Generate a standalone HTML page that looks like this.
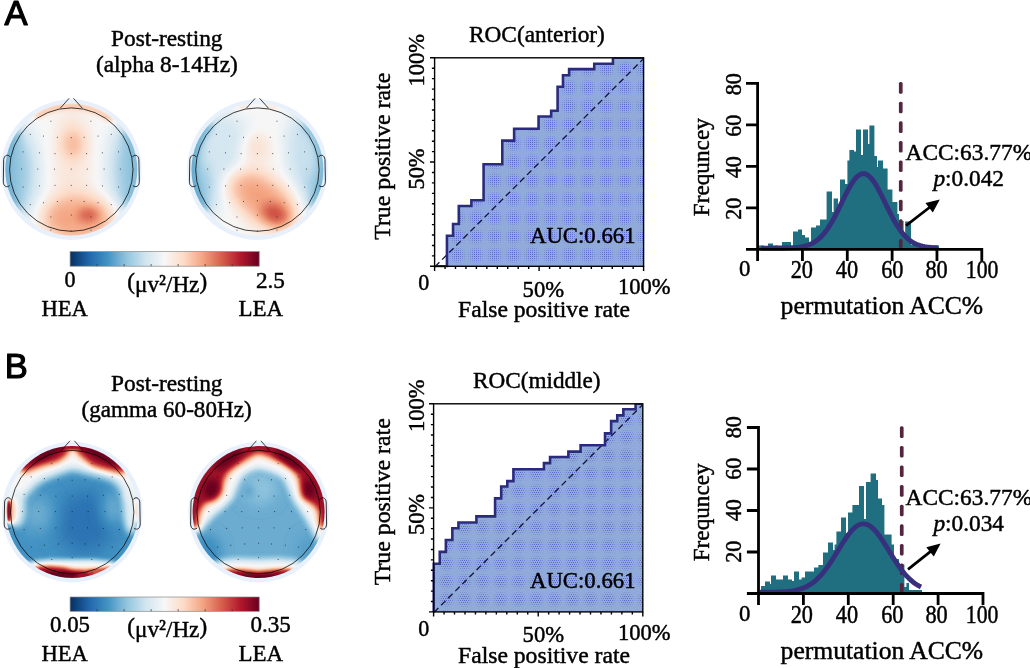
<!DOCTYPE html>
<html lang="en">
<head>
<meta charset="utf-8">
<title>Figure: post-resting EEG power, ROC and permutation tests</title>
<style>
html,body{margin:0;padding:0;background:#fff;}
body{width:1030px;height:668px;overflow:hidden;}
svg{display:block;}
.t{font-family:'Liberation Serif','DejaVu Serif',serif;fill:#000;stroke:#000;stroke-width:0.45px;stroke-linejoin:round;}
.s{font-family:'Liberation Sans','DejaVu Sans',sans-serif;fill:#000;stroke:#000;stroke-width:1.15px;stroke-linejoin:round;}
</style>
</head>
<body>
<svg width="1030" height="668" viewBox="0 0 1030 668">
<rect width="1030" height="668" fill="#fff"/>
<defs>
<filter id="cm" filterUnits="userSpaceOnUse" x="-75" y="-75" width="150" height="150" color-interpolation-filters="sRGB"><feComponentTransfer><feFuncR type="table" tableValues="0.020 0.047 0.075 0.102 0.129 0.163 0.196 0.229 0.263 0.340 0.418 0.495 0.573 0.634 0.696 0.758 0.820 0.857 0.894 0.931 0.969 0.975 0.980 0.986 0.992 0.983 0.975 0.966 0.957 0.927 0.898 0.869 0.839 0.804 0.769 0.733 0.698 0.625 0.551 0.477 0.404"/><feFuncG type="table" tableValues="0.188 0.241 0.294 0.347 0.400 0.444 0.488 0.532 0.576 0.625 0.675 0.724 0.773 0.804 0.835 0.867 0.898 0.916 0.933 0.951 0.969 0.941 0.914 0.886 0.859 0.806 0.753 0.700 0.647 0.579 0.512 0.444 0.376 0.306 0.235 0.165 0.094 0.071 0.047 0.024 0.000"/><feFuncB type="table" tableValues="0.380 0.454 0.527 0.601 0.675 0.697 0.720 0.742 0.765 0.791 0.818 0.844 0.871 0.888 0.906 0.924 0.941 0.948 0.955 0.962 0.969 0.922 0.875 0.827 0.780 0.713 0.645 0.577 0.510 0.458 0.406 0.354 0.302 0.269 0.235 0.202 0.169 0.157 0.145 0.133 0.122"/></feComponentTransfer></filter>
<filter id="b1_1" filterUnits="userSpaceOnUse" x="-110" y="-110" width="220" height="220" color-interpolation-filters="sRGB"><feGaussianBlur stdDeviation="1.1"/></filter>
<filter id="b1_4" filterUnits="userSpaceOnUse" x="-110" y="-110" width="220" height="220" color-interpolation-filters="sRGB"><feGaussianBlur stdDeviation="1.4"/></filter>
<filter id="b1_7" filterUnits="userSpaceOnUse" x="-110" y="-110" width="220" height="220" color-interpolation-filters="sRGB"><feGaussianBlur stdDeviation="1.7"/></filter>
<filter id="b1_9" filterUnits="userSpaceOnUse" x="-110" y="-110" width="220" height="220" color-interpolation-filters="sRGB"><feGaussianBlur stdDeviation="1.9"/></filter>
<filter id="b2_0" filterUnits="userSpaceOnUse" x="-110" y="-110" width="220" height="220" color-interpolation-filters="sRGB"><feGaussianBlur stdDeviation="2.0"/></filter>
<filter id="b2_1" filterUnits="userSpaceOnUse" x="-110" y="-110" width="220" height="220" color-interpolation-filters="sRGB"><feGaussianBlur stdDeviation="2.1"/></filter>
<filter id="b2_8" filterUnits="userSpaceOnUse" x="-110" y="-110" width="220" height="220" color-interpolation-filters="sRGB"><feGaussianBlur stdDeviation="2.8"/></filter>
<filter id="b2_9" filterUnits="userSpaceOnUse" x="-110" y="-110" width="220" height="220" color-interpolation-filters="sRGB"><feGaussianBlur stdDeviation="2.9"/></filter>
<filter id="b3_1" filterUnits="userSpaceOnUse" x="-110" y="-110" width="220" height="220" color-interpolation-filters="sRGB"><feGaussianBlur stdDeviation="3.1"/></filter>
<filter id="b3_3" filterUnits="userSpaceOnUse" x="-110" y="-110" width="220" height="220" color-interpolation-filters="sRGB"><feGaussianBlur stdDeviation="3.3"/></filter>
<filter id="b3_4" filterUnits="userSpaceOnUse" x="-110" y="-110" width="220" height="220" color-interpolation-filters="sRGB"><feGaussianBlur stdDeviation="3.4"/></filter>
<filter id="b3_6" filterUnits="userSpaceOnUse" x="-110" y="-110" width="220" height="220" color-interpolation-filters="sRGB"><feGaussianBlur stdDeviation="3.6"/></filter>
<filter id="b3_8" filterUnits="userSpaceOnUse" x="-110" y="-110" width="220" height="220" color-interpolation-filters="sRGB"><feGaussianBlur stdDeviation="3.8"/></filter>
<filter id="b4_3" filterUnits="userSpaceOnUse" x="-110" y="-110" width="220" height="220" color-interpolation-filters="sRGB"><feGaussianBlur stdDeviation="4.3"/></filter>
<filter id="b4_8" filterUnits="userSpaceOnUse" x="-110" y="-110" width="220" height="220" color-interpolation-filters="sRGB"><feGaussianBlur stdDeviation="4.8"/></filter>
<filter id="b5_3" filterUnits="userSpaceOnUse" x="-110" y="-110" width="220" height="220" color-interpolation-filters="sRGB"><feGaussianBlur stdDeviation="5.3"/></filter>
<filter id="b6_4" filterUnits="userSpaceOnUse" x="-110" y="-110" width="220" height="220" color-interpolation-filters="sRGB"><feGaussianBlur stdDeviation="6.4"/></filter>
<filter id="b6_7" filterUnits="userSpaceOnUse" x="-110" y="-110" width="220" height="220" color-interpolation-filters="sRGB"><feGaussianBlur stdDeviation="6.7"/></filter>
<filter id="b7_1" filterUnits="userSpaceOnUse" x="-110" y="-110" width="220" height="220" color-interpolation-filters="sRGB"><feGaussianBlur stdDeviation="7.1"/></filter>
<filter id="b8_4" filterUnits="userSpaceOnUse" x="-110" y="-110" width="220" height="220" color-interpolation-filters="sRGB"><feGaussianBlur stdDeviation="8.4"/></filter>
<filter id="b8_5" filterUnits="userSpaceOnUse" x="-110" y="-110" width="220" height="220" color-interpolation-filters="sRGB"><feGaussianBlur stdDeviation="8.5"/></filter>
<filter id="b8_6" filterUnits="userSpaceOnUse" x="-110" y="-110" width="220" height="220" color-interpolation-filters="sRGB"><feGaussianBlur stdDeviation="8.6"/></filter>
<filter id="b9_1" filterUnits="userSpaceOnUse" x="-110" y="-110" width="220" height="220" color-interpolation-filters="sRGB"><feGaussianBlur stdDeviation="9.1"/></filter>
<filter id="b9_6" filterUnits="userSpaceOnUse" x="-110" y="-110" width="220" height="220" color-interpolation-filters="sRGB"><feGaussianBlur stdDeviation="9.6"/></filter>
<filter id="b10_0" filterUnits="userSpaceOnUse" x="-110" y="-110" width="220" height="220" color-interpolation-filters="sRGB"><feGaussianBlur stdDeviation="10.0"/></filter>
<filter id="b10_1" filterUnits="userSpaceOnUse" x="-110" y="-110" width="220" height="220" color-interpolation-filters="sRGB"><feGaussianBlur stdDeviation="10.1"/></filter>
<filter id="b10_8" filterUnits="userSpaceOnUse" x="-110" y="-110" width="220" height="220" color-interpolation-filters="sRGB"><feGaussianBlur stdDeviation="10.8"/></filter>
<linearGradient id="cbar" x1="0" x2="1" y1="0" y2="0"><stop offset="0%" stop-color="#053061"/><stop offset="10%" stop-color="#2166ac"/><stop offset="20%" stop-color="#4393c3"/><stop offset="30%" stop-color="#92c5de"/><stop offset="40%" stop-color="#d1e5f0"/><stop offset="50%" stop-color="#f7f7f7"/><stop offset="60%" stop-color="#fddbc7"/><stop offset="70%" stop-color="#f4a582"/><stop offset="80%" stop-color="#d6604d"/><stop offset="90%" stop-color="#b2182b"/><stop offset="100%" stop-color="#67001f"/></linearGradient>
<pattern id="dotsA" width="2" height="2" patternUnits="userSpaceOnUse"><rect x="0" y="0" width="1" height="1" fill="#474cc0"/></pattern>
<pattern id="dotsB" width="2" height="4" patternUnits="userSpaceOnUse"><rect x="0" y="0" width="1" height="1" fill="#474cc0"/><rect x="1" y="2" width="1" height="1" fill="#474cc0"/></pattern>
<radialGradient id="mg" cx="0.5" cy="0.5" r="0.6"><stop offset="0" stop-color="#90abda" stop-opacity="0.15"/><stop offset="0.3" stop-color="#90abda" stop-opacity="0.3"/><stop offset="0.6" stop-color="#90abda" stop-opacity="0.7"/><stop offset="0.85" stop-color="#90abda" stop-opacity="1"/></radialGradient>
<pattern id="moireA" x="1.8" y="3.9" width="18.6" height="18.6" patternUnits="userSpaceOnUse"><rect width="18.6" height="18.6" fill="url(#mg)"/></pattern>
<pattern id="moireB" x="5.4" y="14.4" width="18" height="18" patternUnits="userSpaceOnUse"><rect width="18" height="18" fill="url(#mg)"/></pattern>
</defs>
<circle cx="71.30" cy="169.60" r="70.3" fill="#e8f1fb"/>
<clipPath id="tc1"><circle cx="0" cy="0" r="66.0"/></clipPath>
<g transform="translate(71.30 169.60)"><g clip-path="url(#tc1)"><g filter="url(#cm)">
<rect x="-72" y="-72" width="144" height="144" fill="#808080"/>
<g opacity="1" filter="url(#b9_6)"><ellipse cx="0.0" cy="-0.5" rx="18.0" ry="71.9" fill="#8f8f8f"/></g>
<g opacity="1" filter="url(#b10_8)"><ellipse cx="-69.0" cy="3.1" rx="32.3" ry="55.1" fill="#4a4a4a"/></g>
<g opacity="1" filter="url(#b10_1)"><ellipse cx="69.9" cy="-0.5" rx="29.9" ry="55.1" fill="#4c4c4c"/></g>
<g opacity="1" filter="url(#b3_8)"><path d="M-56.4,32.6 L-59.6,26.3 L-62.1,19.7 L-63.9,12.9 L-64.9,5.9 L-65.1,-1.1 L-64.6,-8.2 L-63.4,-15.1 L-61.4,-21.9 L-58.7,-28.4 L-55.3,-34.5" fill="none" stroke="#404040" stroke-width="5.7" stroke-linecap="round" stroke-linejoin="round"/></g>
<g opacity="1" filter="url(#b3_8)"><path d="M55.3,-34.5 L58.6,-28.6 L61.2,-22.3 L63.2,-15.8 L64.5,-9.1 L65.1,-2.3 L65.0,4.5 L64.2,11.3 L62.6,18.0 L60.4,24.4 L57.5,30.6" fill="none" stroke="#454545" stroke-width="5.3" stroke-linecap="round" stroke-linejoin="round"/></g>
<g opacity="1" filter="url(#b6_7)"><ellipse cx="1.7" cy="-25.6" rx="10.8" ry="15.6" fill="#ababab"/></g>
<g opacity="1" filter="url(#b2_9)"><path d="M-33.8,-54.0 L-27.6,-57.4 L-21.0,-60.1 L-14.2,-62.1 L-7.3,-63.3 L-0.2,-63.7 L6.9,-63.3 L13.8,-62.2 L20.6,-60.3 L27.2,-57.6 L33.4,-54.2 L39.2,-50.2" fill="none" stroke="#a6a6a6" stroke-width="6.2" stroke-linecap="round" stroke-linejoin="round"/></g>
<g opacity="1" filter="url(#b8_6)"><ellipse cx="6.5" cy="48.6" rx="35.9" ry="22.8" fill="#b2b2b2"/></g>
<g opacity="1" filter="url(#b4_8)"><ellipse cx="16.8" cy="45.5" rx="10.1" ry="6.2" fill="#d1d1d1"/></g>
</g></g>
<circle r="61.7" fill="none" stroke="#000" stroke-width="0.75"/>
<path d="M-11,-61.4 L-2.2,-71.3 M2.2,-71.3 L11,-61.4" fill="none" stroke="#000" stroke-width="0.75"/>
<path d="M-61.0,-12.5 C-63.0,-15.5 -67.0,-15 -67.6,-10 L-68.0,12 C-67.8,17.5 -64.0,18 -61.6,16" fill="none" stroke="#000" stroke-width="0.8"/>
<path d="M61.0,-12.5 C63.0,-15.5 67.0,-15 67.6,-10 L68.0,12 C67.8,17.5 64.0,18 61.6,16" fill="none" stroke="#000" stroke-width="0.8"/>
<path d="M-20.9,-48.4h1M19.1,-48.4h1M-41.5,-35.2h1M-28.3,-33.5h1M-14.4,-32.3h1M-0.5,-31.9h1M12.4,-32.3h1M26.3,-33.5h1M39.5,-35.2h1M-48.6,-17.7h1M-32.4,-16.8h1M-16.8,-16.0h1M-0.5,-16.0h1M14.8,-16.0h1M30.6,-16.8h1M46.7,-17.7h1M-50.3,-0.5h1M-34.0,-0.5h1M-17.3,-0.5h1M-0.5,-0.5h1M15.5,-0.5h1M32.3,-0.5h1M48.6,-0.5h1M-48.6,17.5h1M-32.4,16.3h1M-16.8,15.8h1M-0.5,15.8h1M14.8,15.8h1M30.6,16.3h1M46.7,17.5h1M-41.5,35.0h1M-28.3,33.1h1M-14.4,31.9h1M-0.5,31.1h1M12.4,31.9h1M26.3,33.1h1M39.5,35.0h1M-20.9,47.4h1M-0.5,45.5h1M19.1,47.4h1M-0.5,61.3h1M-20.9,60.6h1M19.1,60.6h1" stroke="#111" stroke-width="1" opacity="0.7" fill="none"/>
</g>
<circle cx="257.40" cy="169.60" r="70.3" fill="#e8f1fb"/>
<clipPath id="tc2"><circle cx="0" cy="0" r="66.0"/></clipPath>
<g transform="translate(257.40 169.60)"><g clip-path="url(#tc2)"><g filter="url(#cm)">
<rect x="-72" y="-72" width="144" height="144" fill="#808080"/>
<g opacity="1" filter="url(#b10_8)"><ellipse cx="-69.5" cy="-7.7" rx="32.3" ry="64.7" fill="#4c4c4c"/></g>
<g opacity="1" filter="url(#b10_1)"><ellipse cx="70.7" cy="-10.1" rx="28.7" ry="59.9" fill="#4a4a4a"/></g>
<g opacity="1" filter="url(#b10_1)"><ellipse cx="-33.5" cy="-24.4" rx="26.3" ry="33.5" fill="#696969"/></g>
<g opacity="1" filter="url(#b9_1)"><ellipse cx="47.9" cy="-24.4" rx="18.0" ry="35.9" fill="#636363"/></g>
<g opacity="1" filter="url(#b3_8)"><path d="M-53.4,37.4 L-57.2,31.2 L-60.3,24.6 L-62.7,17.7 L-64.3,10.6 L-65.1,3.3 L-65.0,-4.0 L-64.2,-11.2 L-62.5,-18.3 L-60.1,-25.2 L-56.9,-31.8 L-53.0,-37.9 L-48.4,-43.6" fill="none" stroke="#383838" stroke-width="6.2" stroke-linecap="round" stroke-linejoin="round"/></g>
<g opacity="1" filter="url(#b3_8)"><path d="M48.4,-43.6 L52.8,-38.1 L56.6,-32.2 L59.7,-26.0 L62.2,-19.4 L63.9,-12.6 L64.9,-5.7 L65.1,1.3 L64.6,8.3 L63.3,15.2 L61.3,21.9 L58.6,28.4 L55.3,34.5" fill="none" stroke="#404040" stroke-width="5.3" stroke-linecap="round" stroke-linejoin="round"/></g>
<g opacity="1" filter="url(#b8_4)"><ellipse cx="0.0" cy="-11.3" rx="14.4" ry="21.6" fill="#8c8c8c"/></g>
<g opacity="1" filter="url(#b1_9)"><ellipse cx="-14.4" cy="-62.8" rx="6.7" ry="2.4" fill="#8f8f8f"/></g>
<g opacity="1" filter="url(#b1_9)"><ellipse cx="15.6" cy="-62.8" rx="5.7" ry="2.4" fill="#8f8f8f"/></g>
<g opacity="1" filter="url(#b6_7)"><ellipse cx="0.0" cy="-23.2" rx="9.1" ry="12.0" fill="#959595"/></g>
<g opacity="1" filter="url(#b8_4)"><ellipse cx="-15.6" cy="16.3" rx="16.8" ry="14.4" fill="#999999"/></g>
<g opacity="1" filter="url(#b8_6)"><ellipse cx="7.9" cy="32.6" rx="35.9" ry="22.0" transform="rotate(40 7.9 32.6)" fill="#b4b4b4"/></g>
<g opacity="1" filter="url(#b5_3)"><ellipse cx="17.5" cy="44.1" rx="13.4" ry="8.6" transform="rotate(25 17.5 44.1)" fill="#d6d6d6"/></g>
</g></g>
<circle r="61.7" fill="none" stroke="#000" stroke-width="0.75"/>
<path d="M-11,-61.4 L-2.2,-71.3 M2.2,-71.3 L11,-61.4" fill="none" stroke="#000" stroke-width="0.75"/>
<path d="M-61.0,-12.5 C-63.0,-15.5 -67.0,-15 -67.6,-10 L-68.0,12 C-67.8,17.5 -64.0,18 -61.6,16" fill="none" stroke="#000" stroke-width="0.8"/>
<path d="M61.0,-12.5 C63.0,-15.5 67.0,-15 67.6,-10 L68.0,12 C67.8,17.5 64.0,18 61.6,16" fill="none" stroke="#000" stroke-width="0.8"/>
<path d="M-20.9,-48.4h1M19.1,-48.4h1M-41.5,-35.2h1M-28.3,-33.5h1M-14.4,-32.3h1M-0.5,-31.9h1M12.4,-32.3h1M26.3,-33.5h1M39.5,-35.2h1M-48.6,-17.7h1M-32.4,-16.8h1M-16.8,-16.0h1M-0.5,-16.0h1M14.8,-16.0h1M30.6,-16.8h1M46.7,-17.7h1M-50.3,-0.5h1M-34.0,-0.5h1M-17.3,-0.5h1M-0.5,-0.5h1M15.5,-0.5h1M32.3,-0.5h1M48.6,-0.5h1M-48.6,17.5h1M-32.4,16.3h1M-16.8,15.8h1M-0.5,15.8h1M14.8,15.8h1M30.6,16.3h1M46.7,17.5h1M-41.5,35.0h1M-28.3,33.1h1M-14.4,31.9h1M-0.5,31.1h1M12.4,31.9h1M26.3,33.1h1M39.5,35.0h1M-20.9,47.4h1M-0.5,45.5h1M19.1,47.4h1M-0.5,61.3h1M-20.9,60.6h1M19.1,60.6h1" stroke="#111" stroke-width="1" opacity="0.7" fill="none"/>
</g>
<circle cx="72.20" cy="512.10" r="70.3" fill="#e8f1fb"/>
<clipPath id="tc3"><circle cx="0" cy="0" r="66.0"/></clipPath>
<g transform="translate(72.20 512.10)"><g clip-path="url(#tc3)"><g filter="url(#cm)">
<rect x="-72" y="-72" width="144" height="144" fill="#333333"/>
<g opacity="1" filter="url(#b10_0)"><ellipse cx="13.1" cy="10.4" rx="28.4" ry="32.7" fill="#212121"/></g>
<g opacity="1" filter="url(#b8_5)"><ellipse cx="-35.2" cy="1.8" rx="15.6" ry="18.5" fill="#424242"/></g>
<g opacity="1" filter="url(#b7_1)"><ellipse cx="41.5" cy="-3.9" rx="11.4" ry="17.1" fill="#404040"/></g>
<g opacity="1" filter="url(#b4_3)"><path d="M-86.4,-9.5 L-55.1,-9.5 L-53.7,-12.4 L-45.2,-18.1 L-38.1,-26.6 L-29.6,-32.3 L-15.3,-38.0 L0.3,-43.7 L13.1,-40.1 L27.3,-36.6 L41.5,-32.3 L48.6,-25.2 L52.9,-12.4 L54.3,-9.5 L84.2,-9.5 L84.2,-86.3 L-86.4,-86.3Z" fill="#808080"/></g>
<g opacity="1" filter="url(#b3_6)"><ellipse cx="-55.9" cy="-3.9" rx="7.8" ry="18.5" fill="#757575"/></g>
<g opacity="1" filter="url(#b3_6)"><ellipse cx="59.3" cy="-2.4" rx="7.1" ry="24.2" fill="#757575"/></g>
<g opacity="1" filter="url(#b3_1)"><path d="M-47.3,-38.5 L-43.8,-40.5 L-29.6,-46.2 L-15.3,-49.8 L-8.2,-54.0 L-3.3,-59.3 L-1.5,-66.4 L-1.5,-86.3 L-86.4,-86.3 L-86.4,-63.6 L-56.6,-45.8Z" fill="#ededed"/></g>
<g opacity="1" filter="url(#b3_1)"><path d="M1.7,-86.3 L1.7,-66.4 L4.3,-59.3 L10.3,-54.0 L20.2,-46.2 L34.4,-42.0 L47.2,-39.1 L50.8,-38.3 L60.0,-45.8 L84.2,-63.6 L84.2,-86.3Z" fill="#ededed"/></g>
<g opacity="1" filter="url(#b2_0)"><ellipse cx="-25.3" cy="-58.2" rx="19.9" ry="3.7" transform="rotate(-27 -25.3 -58.2)" fill="#ffffff"/></g>
<g opacity="1" filter="url(#b2_0)"><ellipse cx="27.3" cy="-57.0" rx="21.3" ry="3.7" transform="rotate(27 27.3 -57.0)" fill="#ffffff"/></g>
<g opacity="1" filter="url(#b1_4)"><ellipse cx="0.3" cy="-65.0" rx="7.1" ry="2.6" fill="#f2f2f2"/></g>
<g opacity="1" filter="url(#b2_0)"><ellipse cx="-60.5" cy="-1.0" rx="4.3" ry="13.1" fill="#a3a3a3"/></g>
<g opacity="1" filter="url(#b1_1)"><ellipse cx="-63.4" cy="-1.0" rx="2.3" ry="11.4" fill="#f7f7f7"/></g>
<g opacity="1" filter="url(#b1_4)"><ellipse cx="64.6" cy="-1.0" rx="2.0" ry="11.4" fill="#9e9e9e"/></g>
<g opacity="1" filter="url(#b2_8)"><path d="M-49.5,54.9 L-39.5,49.8 L-22.4,47.8 L0.3,48.2 L20.2,47.8 L38.7,49.8 L48.6,54.9 L48.6,92.4 L-49.5,92.4Z" fill="#808080"/></g>
<g opacity="1" filter="url(#b2_0)"><path d="M-43.8,57.6 L-33.8,54.2 L-22.4,53.6 L-8.2,55.0 L0.3,56.9 L13.1,57.6 L27.3,56.6 L38.7,54.6 L45.8,57.6 L45.8,92.4 L-43.8,92.4Z" fill="#ededed"/></g>
<g opacity="1" filter="url(#b1_4)"><ellipse cx="-15.3" cy="62.8" rx="21.3" ry="3.4" fill="#ffffff"/></g>
<g opacity="1" filter="url(#b1_7)"><ellipse cx="24.5" cy="59.7" rx="10.0" ry="2.3" fill="#cccccc"/></g>
</g></g>
<circle r="61.7" fill="none" stroke="#000" stroke-width="0.75"/>
<path d="M-11,-61.4 L-2.2,-71.3 M2.2,-71.3 L11,-61.4" fill="none" stroke="#000" stroke-width="0.75"/>
<path d="M-61.0,-12.5 C-63.0,-15.5 -67.0,-15 -67.6,-10 L-68.0,12 C-67.8,17.5 -64.0,18 -61.6,16" fill="none" stroke="#000" stroke-width="0.8"/>
<path d="M61.0,-12.5 C63.0,-15.5 67.0,-15 67.6,-10 L68.0,12 C67.8,17.5 64.0,18 61.6,16" fill="none" stroke="#000" stroke-width="0.8"/>
<path d="M-20.9,-48.4h1M19.1,-48.4h1M-41.5,-35.2h1M-28.3,-33.5h1M-14.4,-32.3h1M-0.5,-31.9h1M12.4,-32.3h1M26.3,-33.5h1M39.5,-35.2h1M-48.6,-17.7h1M-32.4,-16.8h1M-16.8,-16.0h1M-0.5,-16.0h1M14.8,-16.0h1M30.6,-16.8h1M46.7,-17.7h1M-50.3,-0.5h1M-34.0,-0.5h1M-17.3,-0.5h1M-0.5,-0.5h1M15.5,-0.5h1M32.3,-0.5h1M48.6,-0.5h1M-48.6,17.5h1M-32.4,16.3h1M-16.8,15.8h1M-0.5,15.8h1M14.8,15.8h1M30.6,16.3h1M46.7,17.5h1M-41.5,35.0h1M-28.3,33.1h1M-14.4,31.9h1M-0.5,31.1h1M12.4,31.9h1M26.3,33.1h1M39.5,35.0h1M-20.9,47.4h1M-0.5,45.5h1M19.1,47.4h1M-0.5,61.3h1M-20.9,60.6h1M19.1,60.6h1" stroke="#111" stroke-width="1" opacity="0.7" fill="none"/>
</g>
<circle cx="258.60" cy="512.10" r="70.3" fill="#e8f1fb"/>
<clipPath id="tc4"><circle cx="0" cy="0" r="66.0"/></clipPath>
<g transform="translate(258.60 512.10)"><g clip-path="url(#tc4)"><g filter="url(#cm)">
<rect x="-72" y="-72" width="144" height="144" fill="#404040"/>
<g opacity="1" filter="url(#b7_1)"><ellipse cx="-0.1" cy="-23.8" rx="18.5" ry="15.6" fill="#4c4c4c"/></g>
<g opacity="1" filter="url(#b3_6)"><ellipse cx="-10.0" cy="-20.9" rx="5.7" ry="7.1" fill="#3d3d3d"/></g>
<g opacity="1" filter="url(#b6_4)"><ellipse cx="-51.3" cy="38.8" rx="12.8" ry="15.6" fill="#2e2e2e"/></g>
<g opacity="1" filter="url(#b6_4)"><ellipse cx="49.7" cy="35.9" rx="10.0" ry="12.8" fill="#383838"/></g>
<g opacity="1" filter="url(#b3_3)"><path d="M-86.8,18.9 L-57.7,18.9 L-56.3,16.0 L-46.3,4.0 L-34.9,-5.3 L-26.4,-13.8 L-21.8,-26.3 L-16.9,-35.8 L-8.6,-41.5 L-0.1,-44.2 L12.7,-40.8 L25.2,-34.4 L30.2,-24.5 L34.3,-13.8 L40.4,-4.6 L48.2,6.8 L54.6,18.9 L58.9,27.4 L83.8,27.4 L83.8,-86.3 L-86.8,-86.3Z" fill="#808080"/></g>
<g opacity="1" filter="url(#b3_4)"><path d="M-86.8,16.0 L-60.9,16.0 L-59.1,1.8 L-54.1,-7.4 L-43.5,-12.4 L-37.1,-18.8 L-34.9,-29.5 L-30.7,-38.7 L-22.8,-45.1 L-14.3,-50.5 L-8.6,-54.2 L-3.7,-57.0 L-0.1,-58.2 L4.2,-57.0 L9.9,-55.0 L16.3,-51.9 L24.8,-49.4 L32.6,-43.7 L39.0,-35.1 L41.8,-24.5 L43.3,-15.2 L51.8,-8.8 L58.9,-2.4 L61.3,16.0 L83.8,16.0 L83.8,-86.3 L-86.8,-86.3Z" fill="#ededed"/></g>
<g opacity="1" filter="url(#b3_6)"><ellipse cx="-47.0" cy="-23.1" rx="7.8" ry="10.0" transform="rotate(15 -47.0 -23.1)" fill="#ffffff"/></g>
<g opacity="1" filter="url(#b3_6)"><ellipse cx="50.4" cy="-23.1" rx="6.4" ry="10.0" transform="rotate(-10 50.4 -23.1)" fill="#ffffff"/></g>
<g opacity="1" filter="url(#b3_1)"><ellipse cx="-30.0" cy="-52.9" rx="17.1" ry="5.0" transform="rotate(-35 -30.0 -52.9)" fill="#ffffff"/></g>
<g opacity="1" filter="url(#b3_1)"><ellipse cx="29.8" cy="-52.2" rx="17.1" ry="5.0" transform="rotate(35 29.8 -52.2)" fill="#ffffff"/></g>
<g opacity="1" filter="url(#b3_1)"><path d="M-48.4,55.5 L-44.2,52.6 L-35.6,48.6 L-22.8,47.3 L-0.1,48.1 L19.8,47.3 L35.4,48.6 L45.4,52.6 L49.7,55.5 L49.7,92.4 L-48.4,92.4Z" fill="#808080"/></g>
<g opacity="1" filter="url(#b2_1)"><path d="M-39.9,62.6 L-37.1,59.7 L-30.0,56.9 L-15.7,57.2 L-0.1,58.6 L15.5,57.2 L29.8,56.6 L39.7,59.7 L42.6,62.6 L42.6,92.4 L-39.9,92.4Z" fill="#ededed"/></g>
<g opacity="1" filter="url(#b1_7)"><ellipse cx="-0.1" cy="65.1" rx="34.1" ry="2.8" fill="#ffffff"/></g>
</g></g>
<circle r="61.7" fill="none" stroke="#000" stroke-width="0.75"/>
<path d="M-11,-61.4 L-2.2,-71.3 M2.2,-71.3 L11,-61.4" fill="none" stroke="#000" stroke-width="0.75"/>
<path d="M-61.0,-12.5 C-63.0,-15.5 -67.0,-15 -67.6,-10 L-68.0,12 C-67.8,17.5 -64.0,18 -61.6,16" fill="none" stroke="#000" stroke-width="0.8"/>
<path d="M61.0,-12.5 C63.0,-15.5 67.0,-15 67.6,-10 L68.0,12 C67.8,17.5 64.0,18 61.6,16" fill="none" stroke="#000" stroke-width="0.8"/>
<path d="M-20.9,-48.4h1M19.1,-48.4h1M-41.5,-35.2h1M-28.3,-33.5h1M-14.4,-32.3h1M-0.5,-31.9h1M12.4,-32.3h1M26.3,-33.5h1M39.5,-35.2h1M-48.6,-17.7h1M-32.4,-16.8h1M-16.8,-16.0h1M-0.5,-16.0h1M14.8,-16.0h1M30.6,-16.8h1M46.7,-17.7h1M-50.3,-0.5h1M-34.0,-0.5h1M-17.3,-0.5h1M-0.5,-0.5h1M15.5,-0.5h1M32.3,-0.5h1M48.6,-0.5h1M-48.6,17.5h1M-32.4,16.3h1M-16.8,15.8h1M-0.5,15.8h1M14.8,15.8h1M30.6,16.3h1M46.7,17.5h1M-41.5,35.0h1M-28.3,33.1h1M-14.4,31.9h1M-0.5,31.1h1M12.4,31.9h1M26.3,33.1h1M39.5,35.0h1M-20.9,47.4h1M-0.5,45.5h1M19.1,47.4h1M-0.5,61.3h1M-20.9,60.6h1M19.1,60.6h1" stroke="#111" stroke-width="1" opacity="0.7" fill="none"/>
</g>
<rect x="70.1" y="251.6" width="189.1" height="14.599999999999994" fill="url(#cbar)" stroke="#888" stroke-width="0.7"/>
<path d="M97.11,266.2v-2.2 M124.13,266.2v-2.2 M151.14,266.2v-2.2 M178.16,266.2v-2.2 M205.17,266.2v-2.2 M232.19,266.2v-2.2 " stroke="#333" stroke-width="0.7" fill="none"/>
<text class="t" x="64.40" y="287.00" font-size="23.2" textLength="11.00" lengthAdjust="spacingAndGlyphs">0</text>
<text class="t" x="255.90" y="288.00" font-size="23.2" textLength="29.00" lengthAdjust="spacingAndGlyphs">2.5</text>
<text class="t" x="127.30" y="292.00" font-size="24" textLength="79.80" lengthAdjust="spacingAndGlyphs" dy="-2.6 2.6 0 0 0 0 0 -2.6">(μv²/Hz)</text>
<text class="t" x="41.60" y="316.00" font-size="23" textLength="46.30" lengthAdjust="spacingAndGlyphs">HEA</text>
<text class="t" x="238.50" y="316.00" font-size="23" textLength="44.60" lengthAdjust="spacingAndGlyphs">LEA</text>
<rect x="70.1" y="597.0" width="189.1" height="14.299999999999955" fill="url(#cbar)" stroke="#888" stroke-width="0.7"/>
<path d="M97.11,611.3v-2.2 M124.13,611.3v-2.2 M151.14,611.3v-2.2 M178.16,611.3v-2.2 M205.17,611.3v-2.2 M232.19,611.3v-2.2 " stroke="#333" stroke-width="0.7" fill="none"/>
<text class="t" x="50.00" y="632.00" font-size="23.2" textLength="40.00" lengthAdjust="spacingAndGlyphs">0.05</text>
<text class="t" x="250.50" y="632.00" font-size="23.2" textLength="40.40" lengthAdjust="spacingAndGlyphs">0.35</text>
<text class="t" x="127.30" y="637.00" font-size="24" textLength="79.80" lengthAdjust="spacingAndGlyphs" dy="-2.6 2.6 0 0 0 0 0 -2.6">(μv²/Hz)</text>
<text class="t" x="41.60" y="661.00" font-size="23" textLength="46.30" lengthAdjust="spacingAndGlyphs">HEA</text>
<text class="t" x="238.50" y="661.00" font-size="23" textLength="44.60" lengthAdjust="spacingAndGlyphs">LEA</text>
<text class="t" x="111.00" y="46.00" font-size="23.2" textLength="111.50" lengthAdjust="spacingAndGlyphs">Post-resting</text>
<text class="t" x="96.00" y="72.00" font-size="23.2" textLength="141.80" lengthAdjust="spacingAndGlyphs">(alpha 8-14Hz)</text>
<text class="t" x="111.00" y="391.00" font-size="23.2" textLength="111.50" lengthAdjust="spacingAndGlyphs">Post-resting</text>
<text class="t" x="81.60" y="417.00" font-size="23.2" textLength="170.00" lengthAdjust="spacingAndGlyphs">(gamma 60-80Hz)</text>
<text class="s" x="4.60" y="25.00" font-size="34.6">A</text>
<text class="s" x="4.70" y="378.00" font-size="34.6">B</text>
<path d="M434.60,266.30 L446.95,266.30 L446.95,235.81 L453.05,235.81 L453.05,223.95 L458.80,223.95 L458.80,205.99 L471.38,205.99 L471.38,200.24 L483.59,200.24 L483.59,164.31 L502.28,164.31 L502.28,140.60 L514.13,140.60 L514.13,128.74 L538.56,128.74 L538.56,116.53 L551.14,116.53 L551.14,110.78 L557.60,110.78 L557.60,86.71 L562.99,86.71 L562.99,75.21 L569.10,75.21 L569.10,69.10 L594.25,69.10 L594.25,63.71 L612.93,63.71 L612.93,57.80 L643.60,57.80 L643.60,266.30 L434.60,266.30 Z" fill="#90abda"/>
<path d="M434.60,266.30 L446.95,266.30 L446.95,235.81 L453.05,235.81 L453.05,223.95 L458.80,223.95 L458.80,205.99 L471.38,205.99 L471.38,200.24 L483.59,200.24 L483.59,164.31 L502.28,164.31 L502.28,140.60 L514.13,140.60 L514.13,128.74 L538.56,128.74 L538.56,116.53 L551.14,116.53 L551.14,110.78 L557.60,110.78 L557.60,86.71 L562.99,86.71 L562.99,75.21 L569.10,75.21 L569.10,69.10 L594.25,69.10 L594.25,63.71 L612.93,63.71 L612.93,57.80 L643.60,57.80 L643.60,266.30 L434.60,266.30 Z" fill="url(#dotsA)"/>
<path d="M434.60,266.30 L446.95,266.30 L446.95,235.81 L453.05,235.81 L453.05,223.95 L458.80,223.95 L458.80,205.99 L471.38,205.99 L471.38,200.24 L483.59,200.24 L483.59,164.31 L502.28,164.31 L502.28,140.60 L514.13,140.60 L514.13,128.74 L538.56,128.74 L538.56,116.53 L551.14,116.53 L551.14,110.78 L557.60,110.78 L557.60,86.71 L562.99,86.71 L562.99,75.21 L569.10,75.21 L569.10,69.10 L594.25,69.10 L594.25,63.71 L612.93,63.71 L612.93,57.80 L643.60,57.80 L643.60,266.30 L434.60,266.30 Z" fill="url(#moireA)"/>
<line x1="435.00" y1="266.70" x2="643.00" y2="59.20" stroke="#15153f" stroke-width="1.35" stroke-dasharray="6.2 3.8"/>
<clipPath id="rc0"><rect x="433.30" y="57.80" width="210.30" height="209.80"/></clipPath>
<path d="M434.60,266.30 L446.95,266.30 L446.95,235.81 L453.05,235.81 L453.05,223.95 L458.80,223.95 L458.80,205.99 L471.38,205.99 L471.38,200.24 L483.59,200.24 L483.59,164.31 L502.28,164.31 L502.28,140.60 L514.13,140.60 L514.13,128.74 L538.56,128.74 L538.56,116.53 L551.14,116.53 L551.14,110.78 L557.60,110.78 L557.60,86.71 L562.99,86.71 L562.99,75.21 L569.10,75.21 L569.10,69.10 L594.25,69.10 L594.25,63.71 L612.93,63.71 L612.93,57.80 L643.60,57.80" fill="none" stroke="#2a2b7c" stroke-width="2.6" stroke-linejoin="miter" clip-path="url(#rc0)"/>
<rect x="434.60" y="57.80" width="209.00" height="208.50" fill="none" stroke="#000" stroke-width="1.4"/>
<path d="M434.60,266.30v4.6 M434.60,266.30h-4.6 M445.05,266.30v2.7 M434.60,255.88h-2.7 M455.50,266.30v2.7 M434.60,245.45h-2.7 M465.95,266.30v2.7 M434.60,235.03h-2.7 M476.40,266.30v2.7 M434.60,224.60h-2.7 M486.85,266.30v2.7 M434.60,214.18h-2.7 M497.30,266.30v2.7 M434.60,203.75h-2.7 M507.75,266.30v2.7 M434.60,193.33h-2.7 M518.20,266.30v2.7 M434.60,182.90h-2.7 M528.65,266.30v2.7 M434.60,172.48h-2.7 M539.10,266.30v4.6 M434.60,162.05h-4.6 M549.55,266.30v2.7 M434.60,151.62h-2.7 M560.00,266.30v2.7 M434.60,141.20h-2.7 M570.45,266.30v2.7 M434.60,130.78h-2.7 M580.90,266.30v2.7 M434.60,120.35h-2.7 M591.35,266.30v2.7 M434.60,109.93h-2.7 M601.80,266.30v2.7 M434.60,99.50h-2.7 M612.25,266.30v2.7 M434.60,89.08h-2.7 M622.70,266.30v2.7 M434.60,78.65h-2.7 M633.15,266.30v2.7 M434.60,68.23h-2.7 M643.60,266.30v4.6 M434.60,57.80h-4.6 " stroke="#000" stroke-width="1.4" fill="none"/>
<text class="t" x="469.00" y="42.00" font-size="23" textLength="135.80" lengthAdjust="spacingAndGlyphs">ROC(anterior)</text>
<text class="t" x="530.00" y="243.00" font-size="23" textLength="105.50" lengthAdjust="spacingAndGlyphs">AUC:0.661</text>
<text class="t" x="418.30" y="290.00" font-size="23" textLength="11.00" lengthAdjust="spacingAndGlyphs">0</text>
<text class="t" x="522.60" y="297.00" font-size="23" textLength="41.50" lengthAdjust="spacingAndGlyphs">50%</text>
<text class="t" x="618.00" y="294.00" font-size="23" textLength="52.60" lengthAdjust="spacingAndGlyphs">100%</text>
<text class="t" x="458.00" y="317.00" font-size="23" textLength="172.00" lengthAdjust="spacingAndGlyphs">False positive rate</text>
<text class="t" x="390.00" y="239.80" font-size="23" textLength="167.00" lengthAdjust="spacingAndGlyphs" transform="rotate(-90 390.00 239.80)">True positive rate</text>
<text class="t" x="424.00" y="86.60" font-size="23.4" textLength="52.60" lengthAdjust="spacingAndGlyphs" transform="rotate(-90 424.00 86.60)">100%</text>
<text class="t" x="424.00" y="189.60" font-size="23.4" textLength="41.20" lengthAdjust="spacingAndGlyphs" transform="rotate(-90 424.00 189.60)">50%</text>
<path d="M433.60,611.90 L433.60,563.77 L439.76,563.77 L439.76,551.91 L445.87,551.91 L445.87,540.05 L452.34,540.05 L452.34,528.20 L458.44,528.20 L458.44,522.45 L476.41,522.45 L476.41,516.34 L495.09,516.34 L495.09,498.38 L501.20,498.38 L501.20,486.52 L507.31,486.52 L507.31,481.13 L513.41,481.13 L513.41,469.28 L543.95,469.28 L543.95,463.17 L550.06,463.17 L550.06,457.06 L568.38,457.06 L568.38,451.67 L580.60,451.67 L580.60,445.20 L605.03,445.20 L605.03,433.35 L611.14,433.35 L611.14,421.13 L617.25,421.13 L617.25,415.38 L623.35,415.38 L623.35,409.28 L635.57,409.28 L635.57,403.80 L642.80,403.80 L642.80,611.90 L433.60,611.90 Z" fill="#90abda"/>
<path d="M433.60,611.90 L433.60,563.77 L439.76,563.77 L439.76,551.91 L445.87,551.91 L445.87,540.05 L452.34,540.05 L452.34,528.20 L458.44,528.20 L458.44,522.45 L476.41,522.45 L476.41,516.34 L495.09,516.34 L495.09,498.38 L501.20,498.38 L501.20,486.52 L507.31,486.52 L507.31,481.13 L513.41,481.13 L513.41,469.28 L543.95,469.28 L543.95,463.17 L550.06,463.17 L550.06,457.06 L568.38,457.06 L568.38,451.67 L580.60,451.67 L580.60,445.20 L605.03,445.20 L605.03,433.35 L611.14,433.35 L611.14,421.13 L617.25,421.13 L617.25,415.38 L623.35,415.38 L623.35,409.28 L635.57,409.28 L635.57,403.80 L642.80,403.80 L642.80,611.90 L433.60,611.90 Z" fill="url(#dotsB)"/>
<path d="M433.60,611.90 L433.60,563.77 L439.76,563.77 L439.76,551.91 L445.87,551.91 L445.87,540.05 L452.34,540.05 L452.34,528.20 L458.44,528.20 L458.44,522.45 L476.41,522.45 L476.41,516.34 L495.09,516.34 L495.09,498.38 L501.20,498.38 L501.20,486.52 L507.31,486.52 L507.31,481.13 L513.41,481.13 L513.41,469.28 L543.95,469.28 L543.95,463.17 L550.06,463.17 L550.06,457.06 L568.38,457.06 L568.38,451.67 L580.60,451.67 L580.60,445.20 L605.03,445.20 L605.03,433.35 L611.14,433.35 L611.14,421.13 L617.25,421.13 L617.25,415.38 L623.35,415.38 L623.35,409.28 L635.57,409.28 L635.57,403.80 L642.80,403.80 L642.80,611.90 L433.60,611.90 Z" fill="url(#moireB)"/>
<line x1="434.00" y1="612.30" x2="642.20" y2="405.20" stroke="#15153f" stroke-width="1.35" stroke-dasharray="6.2 3.8"/>
<clipPath id="rc345"><rect x="432.30" y="403.80" width="210.50" height="209.40"/></clipPath>
<path d="M433.60,611.90 L433.60,563.77 L439.76,563.77 L439.76,551.91 L445.87,551.91 L445.87,540.05 L452.34,540.05 L452.34,528.20 L458.44,528.20 L458.44,522.45 L476.41,522.45 L476.41,516.34 L495.09,516.34 L495.09,498.38 L501.20,498.38 L501.20,486.52 L507.31,486.52 L507.31,481.13 L513.41,481.13 L513.41,469.28 L543.95,469.28 L543.95,463.17 L550.06,463.17 L550.06,457.06 L568.38,457.06 L568.38,451.67 L580.60,451.67 L580.60,445.20 L605.03,445.20 L605.03,433.35 L611.14,433.35 L611.14,421.13 L617.25,421.13 L617.25,415.38 L623.35,415.38 L623.35,409.28 L635.57,409.28 L635.57,403.80 L642.80,403.80" fill="none" stroke="#2a2b7c" stroke-width="2.6" stroke-linejoin="miter" clip-path="url(#rc345)"/>
<rect x="433.60" y="403.80" width="209.20" height="208.10" fill="none" stroke="#000" stroke-width="1.4"/>
<path d="M433.60,611.90v4.6 M433.60,611.90h-4.6 M444.06,611.90v2.7 M433.60,601.50h-2.7 M454.52,611.90v2.7 M433.60,591.09h-2.7 M464.98,611.90v2.7 M433.60,580.68h-2.7 M475.44,611.90v2.7 M433.60,570.28h-2.7 M485.90,611.90v2.7 M433.60,559.88h-2.7 M496.36,611.90v2.7 M433.60,549.47h-2.7 M506.82,611.90v2.7 M433.60,539.06h-2.7 M517.28,611.90v2.7 M433.60,528.66h-2.7 M527.74,611.90v2.7 M433.60,518.25h-2.7 M538.20,611.90v4.6 M433.60,507.85h-4.6 M548.66,611.90v2.7 M433.60,497.44h-2.7 M559.12,611.90v2.7 M433.60,487.04h-2.7 M569.58,611.90v2.7 M433.60,476.63h-2.7 M580.04,611.90v2.7 M433.60,466.23h-2.7 M590.50,611.90v2.7 M433.60,455.82h-2.7 M600.96,611.90v2.7 M433.60,445.42h-2.7 M611.42,611.90v2.7 M433.60,435.01h-2.7 M621.88,611.90v2.7 M433.60,424.61h-2.7 M632.34,611.90v2.7 M433.60,414.21h-2.7 M642.80,611.90v4.6 M433.60,403.80h-4.6 " stroke="#000" stroke-width="1.4" fill="none"/>
<text class="t" x="473.00" y="388.00" font-size="23" textLength="127.60" lengthAdjust="spacingAndGlyphs">ROC(middle)</text>
<text class="t" x="530.00" y="588.00" font-size="23" textLength="105.50" lengthAdjust="spacingAndGlyphs">AUC:0.661</text>
<text class="t" x="418.30" y="636.00" font-size="23" textLength="11.00" lengthAdjust="spacingAndGlyphs">0</text>
<text class="t" x="522.60" y="642.00" font-size="23" textLength="41.50" lengthAdjust="spacingAndGlyphs">50%</text>
<text class="t" x="618.00" y="640.00" font-size="23" textLength="52.60" lengthAdjust="spacingAndGlyphs">100%</text>
<text class="t" x="458.00" y="663.00" font-size="23" textLength="172.00" lengthAdjust="spacingAndGlyphs">False positive rate</text>
<text class="t" x="390.00" y="585.30" font-size="23" textLength="167.00" lengthAdjust="spacingAndGlyphs" transform="rotate(-90 390.00 585.30)">True positive rate</text>
<text class="t" x="424.00" y="432.10" font-size="23.4" textLength="52.60" lengthAdjust="spacingAndGlyphs" transform="rotate(-90 424.00 432.10)">100%</text>
<text class="t" x="424.00" y="535.10" font-size="23.4" textLength="41.20" lengthAdjust="spacingAndGlyphs" transform="rotate(-90 424.00 535.10)">50%</text>
<path d="M759.00,249.30 L759.00,245.60 L764.00,245.60 L764.00,246.60 L768.00,246.60 L768.00,243.40 L773.00,243.40 L773.00,245.60 L778.00,245.60 L778.00,246.60 L782.00,246.60 L782.00,242.00 L791.00,242.00 L791.00,246.00 L793.00,246.00 L793.00,231.40 L798.00,231.40 L798.00,229.40 L802.00,229.40 L802.00,235.00 L805.00,235.00 L805.00,237.40 L809.00,237.40 L809.00,242.00 L811.00,242.00 L811.00,227.40 L816.00,227.40 L816.00,225.60 L820.00,225.60 L820.00,219.40 L826.60,219.40 L826.60,191.40 L832.00,191.40 L832.00,212.00 L833.60,212.00 L833.60,198.60 L838.00,198.60 L838.00,207.00 L840.00,207.00 L840.00,179.40 L845.00,179.40 L845.00,184.00 L847.40,184.00 L847.40,160.60 L849.40,160.60 L849.40,150.00 L854.00,150.00 L854.00,151.60 L856.00,151.60 L856.00,129.40 L861.00,129.40 L861.00,155.00 L863.00,155.00 L863.00,129.40 L868.00,129.40 L868.00,144.00 L869.40,144.00 L869.40,125.40 L874.40,125.40 L874.40,156.00 L877.00,156.00 L877.00,167.00 L878.00,167.00 L878.00,160.60 L883.00,160.60 L883.00,168.40 L887.60,168.40 L887.60,189.60 L892.40,189.60 L892.40,202.00 L897.40,202.00 L897.40,214.00 L899.00,214.00 L899.00,221.00 L903.60,221.00 L903.60,233.00 L905.20,233.00 L905.20,221.60 L911.00,221.60 L911.00,245.00 L916.00,245.00 L916.00,245.60 L939.00,245.60 L939.00,249.30 Z" fill="#1f6f80"/>
<rect x="898.90" y="82.10" width="3.7" height="11.60" rx="1.5" fill="#55243f"/>
<rect x="898.90" y="101.70" width="3.7" height="11.60" rx="1.5" fill="#55243f"/>
<rect x="898.90" y="121.30" width="3.7" height="11.60" rx="1.5" fill="#55243f"/>
<rect x="898.90" y="140.90" width="3.7" height="11.60" rx="1.5" fill="#55243f"/>
<rect x="898.90" y="160.50" width="3.7" height="11.60" rx="1.5" fill="#55243f"/>
<rect x="898.90" y="180.10" width="3.7" height="11.60" rx="1.5" fill="#55243f"/>
<rect x="898.90" y="199.70" width="3.7" height="11.60" rx="1.5" fill="#55243f"/>
<rect x="898.90" y="219.30" width="3.7" height="11.60" rx="1.5" fill="#55243f"/>
<rect x="898.90" y="238.90" width="3.7" height="9.20" rx="1.5" fill="#55243f"/>
<path d="M761.00,248.10 L763.21,248.10 L765.42,248.10 L767.64,248.10 L769.85,248.09 L772.06,248.09 L774.27,248.08 L776.49,248.07 L778.70,248.06 L780.91,248.04 L783.12,248.02 L785.34,247.98 L787.55,247.92 L789.76,247.85 L791.98,247.75 L794.19,247.62 L796.40,247.44 L798.61,247.20 L800.83,246.89 L803.04,246.49 L805.25,245.98 L807.46,245.33 L809.67,244.52 L811.89,243.53 L814.10,242.32 L816.31,240.87 L818.52,239.15 L820.74,237.12 L822.95,234.78 L825.16,232.10 L827.38,229.08 L829.59,225.72 L831.80,222.04 L834.01,218.07 L836.23,213.84 L838.44,209.42 L840.65,204.88 L842.86,200.30 L845.08,195.77 L847.29,191.41 L849.50,187.30 L851.71,183.57 L853.92,180.31 L856.14,177.62 L858.35,175.57 L860.56,174.23 L862.77,173.63 L864.99,173.80 L867.20,174.72 L869.41,176.38 L871.62,178.72 L873.84,181.67 L876.05,185.14 L878.26,189.05 L880.48,193.28 L882.69,197.73 L884.90,202.29 L887.11,206.87 L889.33,211.37 L891.54,215.71 L893.75,219.83 L895.96,223.68 L898.17,227.23 L900.39,230.44 L902.60,233.31 L904.81,235.84 L907.02,238.04 L909.24,239.93 L911.45,241.54 L913.66,242.88 L915.88,243.99 L918.09,244.90 L920.30,245.63 L922.51,246.21 L924.73,246.68 L926.94,247.03 L929.15,247.31 L931.36,247.52 L933.58,247.68 L935.79,247.80 L938.00,247.89" fill="none" stroke="#37307c" stroke-width="4.9" stroke-linecap="butt" stroke-linejoin="round"/>
<path d="M757.60,81.90V260.90 M746.00,249.30H983.20 M802.44,249.30v11.6 M847.28,249.30v11.6 M892.12,249.30v11.6 M936.96,249.30v11.6 M981.80,249.30v11.6 M757.60,207.80h-11.6 M757.60,166.30h-11.6 M757.60,124.80h-11.6 M757.60,83.30h-11.6 " stroke="#000" stroke-width="2.8" fill="none"/>
<line x1="906.00" y1="225.60" x2="930.71" y2="206.45" stroke="#000" stroke-width="2.7"/>
<path d="M939.80,199.40 L932.81,212.41 L925.45,202.93 Z" fill="#000"/>
<text class="t" x="790.65" y="278.00" font-size="24.2" textLength="22.30" lengthAdjust="spacingAndGlyphs">20</text>
<text class="t" x="835.85" y="278.00" font-size="24.2" textLength="22.30" lengthAdjust="spacingAndGlyphs">40</text>
<text class="t" x="881.15" y="278.00" font-size="24.2" textLength="22.30" lengthAdjust="spacingAndGlyphs">60</text>
<text class="t" x="925.45" y="278.00" font-size="24.2" textLength="22.30" lengthAdjust="spacingAndGlyphs">80</text>
<text class="t" x="965.80" y="278.00" font-size="24.2" textLength="32.60" lengthAdjust="spacingAndGlyphs">100</text>
<text class="t" x="739.00" y="276.00" font-size="23.3" textLength="11.40" lengthAdjust="spacingAndGlyphs">0</text>
<text class="t" x="780.60" y="314.00" font-size="25" textLength="202.60" lengthAdjust="spacingAndGlyphs">permutation ACC%</text>
<text class="t" x="741.00" y="219.80" font-size="23.5" textLength="22.00" lengthAdjust="spacingAndGlyphs" transform="rotate(-90 741.00 219.80)">20</text>
<text class="t" x="741.00" y="178.20" font-size="23.5" textLength="22.00" lengthAdjust="spacingAndGlyphs" transform="rotate(-90 741.00 178.20)">40</text>
<text class="t" x="741.00" y="136.80" font-size="23.5" textLength="22.00" lengthAdjust="spacingAndGlyphs" transform="rotate(-90 741.00 136.80)">60</text>
<text class="t" x="741.00" y="95.30" font-size="23.5" textLength="22.00" lengthAdjust="spacingAndGlyphs" transform="rotate(-90 741.00 95.30)">80</text>
<text class="t" x="709.00" y="216.20" font-size="23" textLength="98.00" lengthAdjust="spacingAndGlyphs" transform="rotate(-90 709.00 216.20)">Frequncey</text>
<text class="t" x="905.60" y="160.00" font-size="22.3" textLength="126.50" lengthAdjust="spacingAndGlyphs">ACC:63.77%</text>
<text class="t" x="933.4" y="186" font-size="22.3" textLength="70.6" lengthAdjust="spacingAndGlyphs"><tspan font-style="italic">p</tspan>:0.042</text>
<path d="M761.00,593.50 L761.00,586.00 L765.00,586.00 L765.00,581.60 L770.00,581.60 L770.00,584.00 L771.00,584.00 L771.00,575.40 L776.00,575.40 L776.00,579.40 L783.00,579.40 L783.00,575.40 L788.00,575.40 L788.00,579.40 L792.00,579.40 L792.00,581.00 L794.00,581.00 L794.00,571.60 L799.00,571.60 L799.00,579.40 L801.60,579.40 L801.60,577.40 L805.00,577.40 L805.00,571.60 L814.00,571.60 L814.00,567.40 L818.40,567.40 L818.40,565.00 L823.00,565.00 L823.00,552.40 L828.00,552.40 L828.00,542.40 L833.00,542.40 L833.00,550.00 L834.60,550.00 L834.60,544.40 L836.40,544.40 L836.40,531.60 L841.00,531.60 L841.00,517.40 L846.00,517.40 L846.00,533.00 L848.00,533.00 L848.00,512.60 L852.40,512.60 L852.40,505.00 L859.00,505.00 L859.00,486.00 L864.00,486.00 L864.00,519.00 L866.00,519.00 L866.00,482.00 L870.60,482.00 L870.60,473.40 L876.00,473.40 L876.00,480.00 L878.00,480.00 L878.00,498.40 L882.00,498.40 L882.00,505.00 L884.40,505.00 L884.40,534.40 L891.60,534.40 L891.60,544.40 L894.00,544.40 L894.00,559.00 L899.00,559.00 L899.00,564.40 L904.40,564.40 L904.40,587.00 L906.40,587.00 L906.40,583.00 L909.00,583.00 L909.00,590.00 L922.00,590.00 L922.00,593.50 Z" fill="#1f6f80"/>
<rect x="899.90" y="426.30" width="3.7" height="11.60" rx="1.5" fill="#55243f"/>
<rect x="899.90" y="445.90" width="3.7" height="11.60" rx="1.5" fill="#55243f"/>
<rect x="899.90" y="465.50" width="3.7" height="11.60" rx="1.5" fill="#55243f"/>
<rect x="899.90" y="485.10" width="3.7" height="11.60" rx="1.5" fill="#55243f"/>
<rect x="899.90" y="504.70" width="3.7" height="11.60" rx="1.5" fill="#55243f"/>
<rect x="899.90" y="524.30" width="3.7" height="11.60" rx="1.5" fill="#55243f"/>
<rect x="899.90" y="543.90" width="3.7" height="11.60" rx="1.5" fill="#55243f"/>
<rect x="899.90" y="563.50" width="3.7" height="11.60" rx="1.5" fill="#55243f"/>
<rect x="899.90" y="583.10" width="3.7" height="9.20" rx="1.5" fill="#55243f"/>
<path d="M760.00,592.28 L762.01,592.27 L764.02,592.27 L766.04,592.25 L768.05,592.24 L770.06,592.22 L772.08,592.19 L774.09,592.15 L776.10,592.10 L778.11,592.04 L780.12,591.97 L782.14,591.87 L784.15,591.75 L786.16,591.60 L788.17,591.42 L790.19,591.19 L792.20,590.91 L794.21,590.57 L796.23,590.17 L798.24,589.68 L800.25,589.11 L802.26,588.43 L804.27,587.64 L806.29,586.72 L808.30,585.67 L810.31,584.46 L812.33,583.08 L814.34,581.54 L816.35,579.81 L818.36,577.90 L820.38,575.80 L822.39,573.51 L824.40,571.03 L826.41,568.38 L828.42,565.56 L830.44,562.59 L832.45,559.51 L834.46,556.32 L836.48,553.07 L838.49,549.80 L840.50,546.53 L842.51,543.32 L844.52,540.21 L846.54,537.25 L848.55,534.48 L850.56,531.95 L852.58,529.70 L854.59,527.77 L856.60,526.19 L858.61,525.00 L860.62,524.20 L862.64,523.83 L864.65,523.88 L866.66,524.36 L868.67,525.25 L870.69,526.54 L872.70,528.21 L874.71,530.22 L876.73,532.54 L878.74,535.13 L880.75,537.95 L882.76,540.96 L884.77,544.09 L886.79,547.32 L888.80,550.59 L890.81,553.86 L892.83,557.10 L894.84,560.26 L896.85,563.32 L898.86,566.25 L900.88,569.03 L902.89,571.65 L904.90,574.08 L906.91,576.33 L908.92,578.38 L910.94,580.25 L912.95,581.93 L914.96,583.43 L916.98,584.76 L918.99,585.93 L921.00,586.96" fill="none" stroke="#37307c" stroke-width="4.9" stroke-linecap="butt" stroke-linejoin="round"/>
<path d="M758.50,426.10V605.10 M746.90,593.50H984.40 M803.40,593.50v11.6 M848.30,593.50v11.6 M893.20,593.50v11.6 M938.10,593.50v11.6 M983.00,593.50v11.6 M758.50,552.00h-11.6 M758.50,510.50h-11.6 M758.50,469.00h-11.6 M758.50,427.50h-11.6 " stroke="#000" stroke-width="2.8" fill="none"/>
<line x1="908.00" y1="569.40" x2="931.61" y2="550.57" stroke="#000" stroke-width="2.7"/>
<path d="M940.60,543.40 L933.79,556.51 L926.30,547.13 Z" fill="#000"/>
<text class="t" x="790.65" y="623.00" font-size="24.2" textLength="22.30" lengthAdjust="spacingAndGlyphs">20</text>
<text class="t" x="835.85" y="623.00" font-size="24.2" textLength="22.30" lengthAdjust="spacingAndGlyphs">40</text>
<text class="t" x="881.15" y="623.00" font-size="24.2" textLength="22.30" lengthAdjust="spacingAndGlyphs">60</text>
<text class="t" x="925.45" y="623.00" font-size="24.2" textLength="22.30" lengthAdjust="spacingAndGlyphs">80</text>
<text class="t" x="965.80" y="623.00" font-size="24.2" textLength="32.60" lengthAdjust="spacingAndGlyphs">100</text>
<text class="t" x="739.00" y="621.00" font-size="23.3" textLength="11.40" lengthAdjust="spacingAndGlyphs">0</text>
<text class="t" x="780.60" y="659.00" font-size="25" textLength="202.60" lengthAdjust="spacingAndGlyphs">permutation ACC%</text>
<text class="t" x="741.00" y="562.80" font-size="23.5" textLength="22.00" lengthAdjust="spacingAndGlyphs" transform="rotate(-90 741.00 562.80)">20</text>
<text class="t" x="741.00" y="521.20" font-size="23.5" textLength="22.00" lengthAdjust="spacingAndGlyphs" transform="rotate(-90 741.00 521.20)">40</text>
<text class="t" x="741.00" y="479.80" font-size="23.5" textLength="22.00" lengthAdjust="spacingAndGlyphs" transform="rotate(-90 741.00 479.80)">60</text>
<text class="t" x="741.00" y="438.30" font-size="23.5" textLength="22.00" lengthAdjust="spacingAndGlyphs" transform="rotate(-90 741.00 438.30)">80</text>
<text class="t" x="709.00" y="561.30" font-size="23" textLength="98.00" lengthAdjust="spacingAndGlyphs" transform="rotate(-90 709.00 561.30)">Frequncey</text>
<text class="t" x="905.60" y="505.00" font-size="22.3" textLength="126.50" lengthAdjust="spacingAndGlyphs">ACC:63.77%</text>
<text class="t" x="933.4" y="531" font-size="22.3" textLength="70.6" lengthAdjust="spacingAndGlyphs"><tspan font-style="italic">p</tspan>:0.034</text>
</svg>
</body>
</html>
